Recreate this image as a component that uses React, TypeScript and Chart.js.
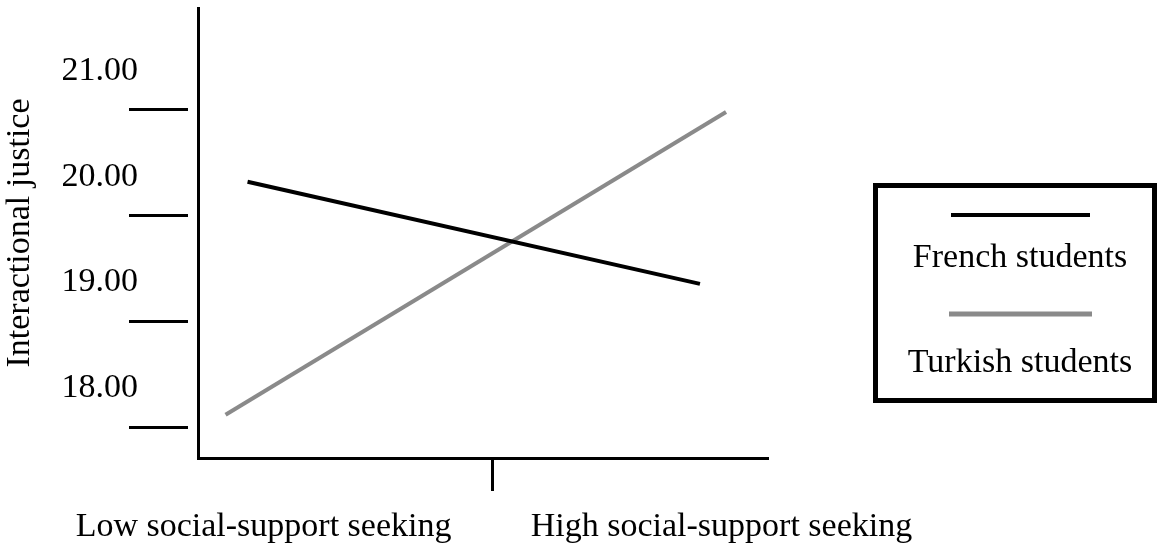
import React, { useEffect, useRef } from 'react';
import { Chart, registerables } from 'chart.js';

Chart.register(...registerables);

const seriesNames = ['French students', 'Turkish students'];
const seriesColors = ['#000000', '#8a8a8a'];
const categoryLabels = ['Low social-support seeking', 'High social-support seeking'];
const categoryPositions = [0, 1];
const dividerPosition = 0.5;
const frenchX = [-0.035, 0.953];
const frenchY = [20.32, 19.355];
const turkishX = [-0.083, 1.01];
const turkishY = [18.117, 20.98];
const yTickValues = [18, 19, 20, 21];
const yTickLabels = ['18.00', '19.00', '20.00', '21.00'];
const yAxisTitle = 'Interactional justice';

const FONT_FAMILY = '"Liberation Serif", "Times New Roman", serif';
const FONT_SIZE = 34;

const boxLegend = {
  id: 'boxLegend',
  afterDraw(chart: any) {
    const ctx = chart.ctx;
    ctx.save();
    ctx.lineWidth = 5;
    ctx.strokeStyle = '#000';
    ctx.strokeRect(875.5, 185.5, 279, 215);
    const rows = [
      { lineY: 215, x1: 951, x2: 1090, w: 4, textY: 267 },
      { lineY: 314, x1: 949, x2: 1092, w: 5, textY: 372 },
    ];
    chart.data.datasets.forEach((ds: any, i: number) => {
      const r = rows[i];
      ctx.beginPath();
      ctx.lineWidth = r.w;
      ctx.lineCap = 'butt';
      ctx.strokeStyle = ds.borderColor;
      ctx.moveTo(r.x1, r.lineY);
      ctx.lineTo(r.x2, r.lineY);
      ctx.stroke();
      ctx.fillStyle = '#000';
      ctx.font = `${FONT_SIZE}px ${FONT_FAMILY}`;
      ctx.textAlign = 'center';
      ctx.textBaseline = 'alphabetic';
      ctx.fillText(ds.label, 1020, r.textY);
    });
    ctx.restore();
  },
};

export default function App() {
  const canvasRef = useRef<HTMLCanvasElement | null>(null);

  useEffect(() => {
    const canvas = canvasRef.current;
    if (!canvas) return;
    const font = { family: FONT_FAMILY, size: FONT_SIZE };
    const chart = new Chart(canvas, {
      type: 'line',
      data: {
        datasets: [
          {
            label: seriesNames[0],
            data: frenchX.map((x, i) => ({ x, y: frenchY[i] })),
            borderColor: seriesColors[0],
            backgroundColor: seriesColors[0],
          },
          {
            label: seriesNames[1],
            data: turkishX.map((x, i) => ({ x, y: turkishY[i] })),
            borderColor: seriesColors[1],
            backgroundColor: seriesColors[1],
          },
        ],
      },
      options: {
        animation: false,
        responsive: false,
        devicePixelRatio: 1,
        layout: { padding: { top: 8, right: 396, left: 0, bottom: 0 } },
        plugins: { legend: { display: false }, tooltip: { enabled: false } },
        elements: {
          point: { radius: 0 },
          line: { borderWidth: 4, borderCapStyle: 'butt', tension: 0 },
        },
        scales: {
          x: {
            type: 'linear',
            min: -0.1432,
            max: 1.1016,
            afterBuildTicks: (s: any) => {
              s.ticks = [...categoryPositions, dividerPosition]
                .sort((a, b) => a - b)
                .map((v) => ({ value: v }));
            },
            afterFit: (s: any) => {
              s.height = 86;
              s.paddingLeft = 0;
              s.paddingRight = 0;
            },
            border: { display: true, color: '#000', width: 3 },
            grid: {
              drawOnChartArea: false,
              drawTicks: true,
              tickLength: 33,
              tickWidth: 3,
              tickColor: (c: any) =>
                c.tick && c.tick.value === dividerPosition ? '#000' : 'rgba(0,0,0,0)',
            },
            ticks: {
              autoSkip: false,
              maxRotation: 0,
              minRotation: 0,
              padding: 16,
              color: '#000',
              font,
              callback: (v: any) => {
                const i = categoryPositions.indexOf(Number(v));
                return i >= 0 ? categoryLabels[i] : '';
              },
            },
          },
          y: {
            type: 'linear',
            min: 17.708,
            max: 21.964,
            afterBuildTicks: (s: any) => {
              s.ticks = yTickValues.map((v) => ({ value: v }));
            },
            afterFit: (s: any) => {
              s.width = 198;
              s.paddingTop = 0;
              s.paddingBottom = 0;
            },
            border: { display: true, color: '#000', width: 3 },
            grid: {
              drawOnChartArea: false,
              drawTicks: true,
              tickLength: 69,
              tickWidth: 3,
              tickColor: '#000',
              tickBorderDash: [59, 20],
            },
            ticks: {
              padding: -9,
              labelOffset: -39,
              color: '#000',
              font,
              callback: (v: any) => {
                const i = yTickValues.indexOf(Number(v));
                return i >= 0 ? yTickLabels[i] : '';
              },
            },
            title: {
              display: true,
              text: yAxisTitle,
              color: '#000',
              font,
              padding: { top: 0, bottom: 0 },
            },
          },
        },
      },
      plugins: [boxLegend],
    } as any);
    return () => chart.destroy();
  }, []);

  return (
    <div style={{ position: 'absolute', left: 0, top: 0, width: 1164, height: 544, background: '#fff' }}>
      <canvas ref={canvasRef} width={1164} height={544} style={{ display: 'block' }} />
    </div>
  );
}
